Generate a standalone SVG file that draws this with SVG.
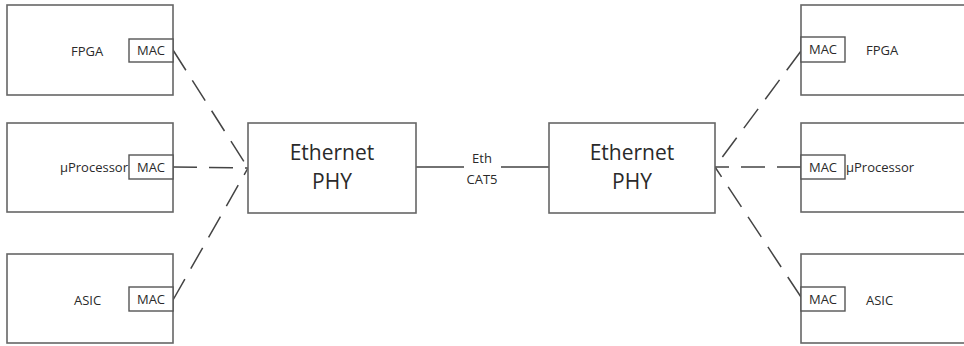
<svg xmlns="http://www.w3.org/2000/svg" width="964" height="346" viewBox="0 0 964 346">
<style>
.box{fill:#fff;stroke:#666;stroke-width:1.6}
.mac{fill:#fff;stroke:#555;stroke-width:1.4}
.t{font-family:"Open Sans","Liberation Sans",sans-serif;fill:#2a2a2a}
.s{font-size:13px}
.l{font-size:21px}
.dash{fill:none;stroke:#444;stroke-width:1.5;stroke-dasharray:24 12}
.solid{fill:none;stroke:#444;stroke-width:1.5}
</style>
<rect width="964" height="346" fill="#fff"/>
<g id="connectors">
<path class="dash" d="M173,50 L248,168"/>
<path class="dash" d="M173,167 L248,168"/>
<path class="dash" d="M173,300 L248,168"/>
<path class="dash" d="M801,51 L715,167"/>
<path class="dash" d="M801,167 L715,167"/>
<path class="dash" d="M801,297 L715,167"/>
<path class="solid" d="M416,167 H464 M501,167 H549"/>
<text class="t s" x="482" y="163" text-anchor="middle">Eth</text>
<text class="t s" x="482" y="184" text-anchor="middle">CAT5</text>
</g>
<g id="fpga-left">
<rect class="box" x="7" y="5" width="166" height="90"/>
<text class="t s" x="71" y="56">FPGA</text>
<rect class="mac" x="129" y="39" width="44" height="23"/>
<text class="t s" x="151" y="55" text-anchor="middle">MAC</text>
</g>
<g id="uproc-left">
<rect class="box" x="7" y="123" width="166" height="89"/>
<text class="t s" x="128" y="172" text-anchor="end">µProcessor</text>
<rect class="mac" x="129" y="155" width="44" height="24"/>
<text class="t s" x="151" y="172" text-anchor="middle">MAC</text>
</g>
<g id="asic-left">
<rect class="box" x="7" y="254" width="166" height="89"/>
<text class="t s" x="74" y="305">ASIC</text>
<rect class="mac" x="129" y="287" width="44" height="24"/>
<text class="t s" x="151" y="304" text-anchor="middle">MAC</text>
</g>
<g id="phy-left">
<rect class="box" x="248" y="123" width="168" height="90"/>
<text class="t l" x="332" y="160" text-anchor="middle">Ethernet</text>
<text class="t l" x="332" y="189" text-anchor="middle">PHY</text>
</g>
<g id="phy-right">
<rect class="box" x="549" y="123" width="166" height="90"/>
<text class="t l" x="632" y="160" text-anchor="middle">Ethernet</text>
<text class="t l" x="632" y="189" text-anchor="middle">PHY</text>
</g>
<g id="fpga-right">
<rect class="box" x="801" y="5" width="170" height="90"/>
<rect class="mac" x="801" y="37" width="44" height="25"/>
<text class="t s" x="823" y="54" text-anchor="middle">MAC</text>
<text class="t s" x="866" y="55">FPGA</text>
</g>
<g id="uproc-right">
<rect class="box" x="801" y="123" width="170" height="89"/>
<rect class="mac" x="801" y="155" width="44" height="24"/>
<text class="t s" x="823" y="172" text-anchor="middle">MAC</text>
<text class="t s" x="846" y="172">µProcessor</text>
</g>
<g id="asic-right">
<rect class="box" x="801" y="254" width="170" height="89"/>
<rect class="mac" x="801" y="287" width="44" height="24"/>
<text class="t s" x="823" y="304" text-anchor="middle">MAC</text>
<text class="t s" x="866" y="305">ASIC</text>
</g>
</svg>
